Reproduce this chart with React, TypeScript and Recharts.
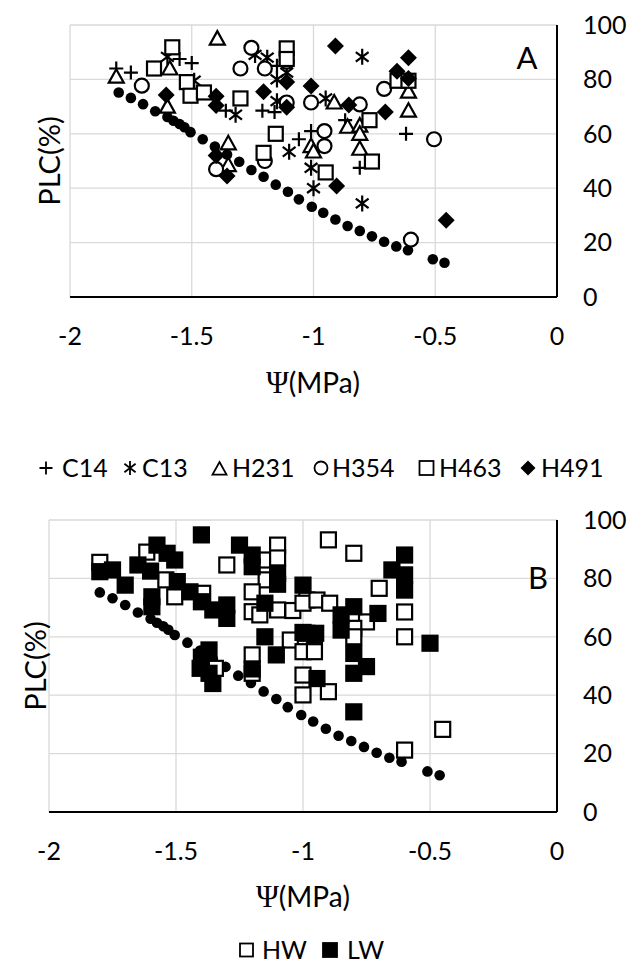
import React from 'react';
import { ScatterChart, Scatter, XAxis, YAxis, CartesianGrid } from 'recharts';

const FONT = "Lato, 'Open Sans', sans-serif";

const xTicks = [-2, -1.5, -1, -0.5, 0];
const yTicks = [0, 20, 40, 60, 80, 100];

// fitted / reference curve (black dots), shared by both panels
const curve: [number, number][] = [
  [-1.8, 75.2], [-1.75, 73.2], [-1.7, 70.9], [-1.65, 68.3], [-1.6, 66.2], [-1.575, 64.8],
  [-1.55, 63.6], [-1.53, 62.4], [-1.505, 60.6], [-1.455, 58.0], [-1.405, 55.3], [-1.355, 52.4],
  [-1.305, 49.7], [-1.255, 46.7], [-1.205, 44.2], [-1.155, 41.3], [-1.105, 38.7], [-1.06, 35.9],
  [-1.007, 33.2], [-0.96, 31.0], [-0.91, 28.5], [-0.86, 26.1], [-0.81, 24.3], [-0.76, 22.3],
  [-0.71, 20.3], [-0.66, 18.6], [-0.612, 17.2], [-0.51, 13.9], [-0.462, 12.6],
];

// Panel A series
const c14: [number, number][] = [
  [-1.81, 84], [-1.75, 82.5], [-1.55, 87.5], [-1.5, 86], [-1.36, 68.5], [-1.21, 68.5],
  [-1.16, 68], [-1.15, 85], [-1.06, 58], [-1.01, 61], [-0.87, 65], [-0.81, 47.5], [-0.62, 60],
];
const c13: [number, number][] = [
  [-1.6, 88.3], [-1.49, 79.5], [-1.32, 67], [-1.24, 89], [-1.19, 88], [-1.15, 80], [-1.15, 72],
  [-1.11, 82.5], [-1.1, 53.4], [-1.01, 47.5], [-1.0, 40], [-0.95, 73], [-0.8, 88.3], [-0.8, 34.4],
];
const h231: [number, number][] = [
  [-1.81, 81], [-1.59, 84], [-1.6, 70], [-1.395, 95], [-1.35, 56.5], [-1.35, 48.5], [-1.01, 55.5],
  [-1.0, 53.5], [-0.915, 71.5], [-0.86, 62.6], [-0.81, 63], [-0.81, 60], [-0.81, 54.5],
  [-0.61, 75.5], [-0.61, 68.5],
];
const h354: [number, number][] = [
  [-1.705, 77.7], [-1.4, 47], [-1.3, 84], [-1.255, 91.6], [-1.2, 84], [-1.11, 86.5], [-1.11, 71.5],
  [-1.01, 71.5], [-0.955, 61], [-0.955, 55.5], [-0.81, 70.8], [-0.71, 76.5], [-0.6, 21.1],
  [-0.505, 58], [-1.2, 50],
];
const h463: [number, number][] = [
  [-1.655, 84], [-1.58, 91.8], [-1.52, 79], [-1.505, 74], [-1.45, 75.2], [-1.3, 73], [-1.11, 91.4],
  [-1.11, 87.5], [-1.155, 60], [-1.205, 53], [-0.95, 45.8], [-0.77, 65], [-0.76, 49.8],
  [-0.655, 79.5], [-0.61, 79.5],
];
const h491: [number, number][] = [
  [-1.605, 74.3], [-1.4, 73.8], [-1.4, 70.4], [-1.4, 52], [-1.355, 44.5], [-1.205, 75.5],
  [-1.11, 79], [-1.11, 69.8], [-1.01, 77.6], [-0.91, 92.3], [-0.905, 40.8], [-0.855, 70.6],
  [-0.705, 68], [-0.657, 83], [-0.61, 88], [-0.61, 80.3], [-0.455, 28.2],
];

// Panel B series
const hw: [number, number][] = [
  [-1.8, 85.5], [-1.615, 89], [-1.54, 79.5], [-1.505, 73.7], [-1.395, 74.9], [-1.3, 84.6],
  [-1.145, 86.3], [-1.145, 79.5], [-1.1, 91.4], [-1.1, 87], [-1.2, 75.4], [-1.2, 68.6],
  [-1.1, 69.2], [-1.17, 67.5], [-1.04, 69], [-0.985, 72.6], [-1.05, 58.9], [-0.9, 93.2],
  [-0.8, 88.6], [-0.7, 76.6], [-0.6, 68.5], [-0.6, 60], [-0.75, 65.1], [-0.8, 62.9], [-0.8, 60],
  [-1.0, 71.5], [-0.945, 72.6], [-0.895, 71.5], [-0.955, 55.5], [-1.345, 49.2], [-1.2, 53.8],
  [-1.2, 47.5], [-1.0, 54.9], [-0.955, 54.9], [-1.0, 46.9], [-0.9, 41.2], [-1.0, 40.1],
  [-0.45, 28.3], [-0.6, 21.2],
];
const lw: [number, number][] = [
  [-1.8, 82.3], [-1.75, 82.9], [-1.7, 77.7], [-1.65, 84.6], [-1.6, 82.5], [-1.575, 91.4],
  [-1.535, 88.6], [-1.505, 86.3], [-1.595, 73.7], [-1.595, 70.3], [-1.495, 78.9], [-1.445, 75.4],
  [-1.4, 72], [-1.4, 94.9], [-1.355, 69.2], [-1.3, 70.9], [-1.3, 66.3], [-1.25, 91.4], [-1.2, 88],
  [-1.2, 84], [-1.1, 81.7], [-1.1, 78], [-1.15, 71.5], [-1.0, 77.7], [-0.985, 61.2], [-1.15, 60],
  [-1.37, 55.5], [-1.37, 47.5], [-1.355, 44], [-1.405, 49.2], [-1.4, 53], [-1.2, 49],
  [-1.105, 53.8], [-0.945, 45.7], [-0.8, 54.3], [-0.8, 47.5], [-0.75, 49.8], [-0.8, 34.3],
  [-0.5, 57.8], [-0.6, 88], [-0.65, 82.9], [-0.6, 81.2], [-0.6, 76], [-0.705, 68], [-0.8, 70.3],
  [-0.85, 67.5], [-0.85, 62.3], [-1.0, 61.5], [-0.95, 61.2],
];

const toPts = (a: [number, number][]) => a.map(([x, y]) => ({ x, y }));

const SW = 2.2;

const Plus = ({ cx, cy, s = 7, sw = SW }: any) => (
  <path d={`M${cx - s},${cy}H${cx + s}M${cx},${cy - s}V${cy + s}`} stroke="#000" strokeWidth={sw} fill="none" />
);
const Aster = ({ cx, cy, s = 8, sw = SW }: any) => (
  <path
    d={`M${cx},${cy - s}V${cy + s}M${cx - s * 0.8},${cy - s * 0.6}L${cx + s * 0.8},${cy + s * 0.6}M${cx - s * 0.8},${cy + s * 0.6}L${cx + s * 0.8},${cy - s * 0.6}`}
    stroke="#000" strokeWidth={sw} fill="none"
  />
);
const Tri = ({ cx, cy, s = 7.5, sw = SW }: any) => (
  <path d={`M${cx},${cy - s}L${cx + s},${cy + s * 0.8}L${cx - s},${cy + s * 0.8}Z`} stroke="#000" strokeWidth={sw} fill="#fff" />
);
const Circ = ({ cx, cy, s = 7, sw = SW }: any) => (
  <circle cx={cx} cy={cy} r={s} stroke="#000" strokeWidth={sw} fill="#fff" />
);
const Sq = ({ cx, cy, s = 7, sw = SW, filled = false }: any) => (
  <rect x={cx - s} y={cy - s} width={2 * s} height={2 * s} stroke="#000" strokeWidth={sw} fill={filled ? '#000' : '#fff'} />
);
const Dia = ({ cx, cy, s = 8.5 }: any) => (
  <path d={`M${cx},${cy - s}L${cx + s},${cy}L${cx},${cy + s}L${cx - s},${cy}Z`} fill="#000" />
);
const Dot = ({ cx, cy }: any) => <circle cx={cx} cy={cy} r={5.3} fill="#000" />;

const tickStyle = { fill: '#000', fontSize: 25, fontFamily: FONT };

function Panel({ left, top, height, marginTop, marginBottom, children }: any) {
  return (
    <div style={{ position: 'absolute', left: 0, top }}>
      <ScatterChart
        width={640}
        height={height}
        margin={{ top: marginTop, right: 23, left, bottom: marginBottom }}
      >
        <CartesianGrid stroke="#d9d9d9" strokeWidth={1.3} />
        <XAxis
          dataKey="x"
          type="number"
          domain={[-2, 0]}
          ticks={xTicks}
          tickLine={false}
          tickSize={0}
          tickMargin={30}
          height={50}
          axisLine={{ stroke: '#000', strokeWidth: 2 }}
          tick={tickStyle}
          allowDataOverflow
        />
        <YAxis
          dataKey="y"
          type="number"
          orientation="right"
          domain={[0, 100]}
          ticks={yTicks}
          tickLine={false}
          tickSize={0}
          tickMargin={26}
          width={60}
          axisLine={{ stroke: '#000', strokeWidth: 2 }}
          tick={tickStyle}
          allowDataOverflow
        />
        {children}
      </ScatterChart>
    </div>
  );
}

const SERIF = "'Liberation Serif', 'DejaVu Serif', serif";

export default function App() {
  return (
    <div style={{ position: 'absolute', left: 0, top: 0, width: 640, height: 963, background: '#fff', overflow: 'hidden' }}>
      <Panel left={70} top={0} height={420} marginTop={25} marginBottom={73}>
        <Scatter name="curve" data={toPts(curve)} shape={(p: any) => <Dot cx={p.cx} cy={p.cy} />} isAnimationActive={false} />
        <Scatter name="C14" data={toPts(c14)} shape={(p: any) => <Plus cx={p.cx} cy={p.cy} />} isAnimationActive={false} />
        <Scatter name="C13" data={toPts(c13)} shape={(p: any) => <Aster cx={p.cx} cy={p.cy} />} isAnimationActive={false} />
        <Scatter name="H231" data={toPts(h231)} shape={(p: any) => <Tri cx={p.cx} cy={p.cy} />} isAnimationActive={false} />
        <Scatter name="H354" data={toPts(h354)} shape={(p: any) => <Circ cx={p.cx} cy={p.cy} />} isAnimationActive={false} />
        <Scatter name="H463" data={toPts(h463)} shape={(p: any) => <Sq cx={p.cx} cy={p.cy} />} isAnimationActive={false} />
        <Scatter name="H491" data={toPts(h491)} shape={(p: any) => <Dia cx={p.cx} cy={p.cy} />} isAnimationActive={false} />
      </Panel>
      <Panel left={49} top={480} height={460} marginTop={40} marginBottom={78}>
        <Scatter name="curve" data={toPts(curve)} shape={(p: any) => <Dot cx={p.cx} cy={p.cy} />} isAnimationActive={false} />
        <Scatter name="HW" data={toPts(hw)} shape={(p: any) => <Sq cx={p.cx} cy={p.cy} s={7.5} />} isAnimationActive={false} />
        <Scatter name="LW" data={toPts(lw)} shape={(p: any) => <Sq cx={p.cx} cy={p.cy} s={7.5} filled />} isAnimationActive={false} />
      </Panel>
      <svg width={640} height={963} style={{ position: 'absolute', left: 0, top: 0, pointerEvents: 'none' }}>
        <g fontFamily={FONT} fill="#000">
          {/* Panel A texts */}
          <text x={313} y={383} dy="0.36em" textAnchor="middle" fontSize={28}>
            <tspan fontFamily={SERIF} fontSize={31}>Ψ</tspan>
            <tspan>(MPa)</tspan>
          </text>
          <text transform="translate(50,161) rotate(-90)" textAnchor="middle" dy="0.36em" fontSize={29}>PLC(%)</text>
          <text x={527} y={58} dy="0.36em" textAnchor="middle" fontSize={31}>A</text>
          {/* Legend A */}
          <Plus cx={46} cy={468} s={6.5} sw={1.8} />
          <text x={62} y={468} dy="0.36em" fontSize={25}>C14</text>
          <Aster cx={130} cy={468} s={7} sw={1.8} />
          <text x={142} y={468} dy="0.36em" fontSize={25}>C13</text>
          <Tri cx={219.5} cy={469} s={7} sw={1.8} />
          <text x={232} y={468} dy="0.36em" fontSize={25}>H231</text>
          <Circ cx={321} cy={468} s={6.5} sw={1.8} />
          <text x={332} y={468} dy="0.36em" fontSize={25}>H354</text>
          <Sq cx={426.5} cy={468} s={7} sw={1.8} />
          <text x={439} y={468} dy="0.36em" fontSize={25}>H463</text>
          <Dia cx={528} cy={468} s={7.5} />
          <text x={541} y={468} dy="0.36em" fontSize={25}>H491</text>
          {/* Panel B texts */}
          <text x={303} y={897} dy="0.36em" textAnchor="middle" fontSize={28}>
            <tspan fontFamily={SERIF} fontSize={31}>Ψ</tspan>
            <tspan>(MPa)</tspan>
          </text>
          <text transform="translate(36,666) rotate(-90)" textAnchor="middle" dy="0.36em" fontSize={29}>PLC(%)</text>
          <text x={538} y={578} dy="0.36em" textAnchor="middle" fontSize={31}>B</text>
          {/* Legend B */}
          <Sq cx={246.5} cy={950} s={6.5} sw={1.8} />
          <text x={262} y={950} dy="0.36em" fontSize={25}>HW</text>
          <Sq cx={330} cy={950} s={7} sw={1.8} filled />
          <text x={347} y={950} dy="0.36em" fontSize={25}>LW</text>
        </g>
      </svg>
    </div>
  );
}
